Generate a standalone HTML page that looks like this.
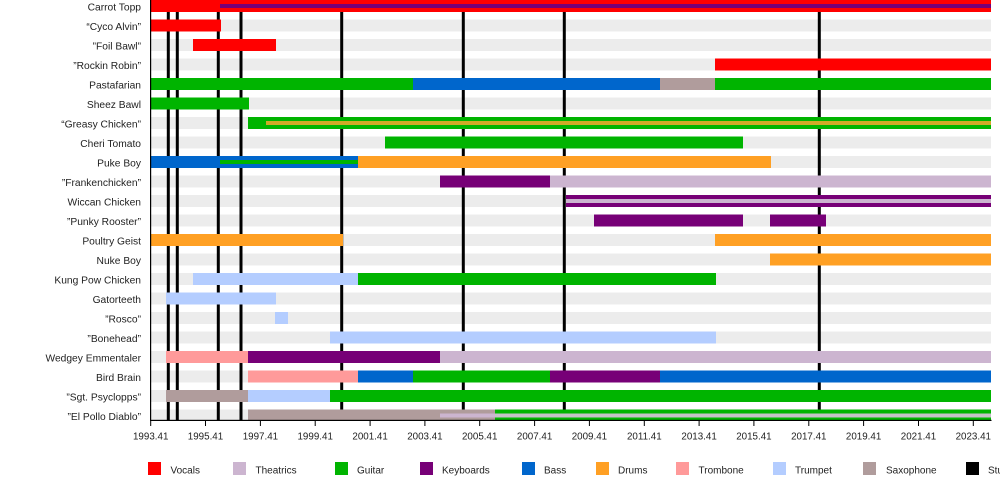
<!DOCTYPE html>
<html>
<head>
<meta charset="utf-8">
<style>
html,body{margin:0;padding:0;background:#fff;overflow:hidden;}
svg{display:block;font-family:"Liberation Sans",Arial,sans-serif;}
</style>
</head>
<body>
<svg width="1000" height="480" viewBox="0 0 1000 480" xmlns="http://www.w3.org/2000/svg">
<!-- stripes -->
<g fill="#ececec">
<rect x="151" y="0" width="840" height="12"/>
<rect x="151" y="19.5" width="840" height="12"/>
<rect x="151" y="39" width="840" height="12"/>
<rect x="151" y="58.5" width="840" height="12"/>
<rect x="151" y="78" width="840" height="12"/>
<rect x="151" y="97.5" width="840" height="12"/>
<rect x="151" y="117" width="840" height="12"/>
<rect x="151" y="136.5" width="840" height="12"/>
<rect x="151" y="156" width="840" height="12"/>
<rect x="151" y="175.5" width="840" height="12"/>
<rect x="151" y="195" width="840" height="12"/>
<rect x="151" y="214.5" width="840" height="12"/>
<rect x="151" y="234" width="840" height="12"/>
<rect x="151" y="253.5" width="840" height="12"/>
<rect x="151" y="273" width="840" height="12"/>
<rect x="151" y="292.5" width="840" height="12"/>
<rect x="151" y="312" width="840" height="12"/>
<rect x="151" y="331.5" width="840" height="12"/>
<rect x="151" y="351" width="840" height="12"/>
<rect x="151" y="370.5" width="840" height="12"/>
<rect x="151" y="390" width="840" height="12"/>
<rect x="151" y="409.5" width="840" height="11"/>
</g>
<!-- studio album lines -->
<g fill="#000">
<rect x="166.8" y="0" width="3" height="420"/>
<rect x="175.8" y="0" width="3" height="420"/>
<rect x="216.8" y="0" width="3" height="420"/>
<rect x="239.5" y="0" width="3" height="420"/>
<rect x="340.2" y="0" width="3" height="420"/>
<rect x="461.8" y="0" width="3" height="420"/>
<rect x="562.8" y="0" width="3" height="420"/>
<rect x="817.8" y="0" width="3" height="420"/>
</g>
<!-- bars -->
<!-- 0 Carrot Topp -->
<rect x="151" y="0" width="840" height="12" fill="#ff0000"/>
<rect x="220" y="4" width="771" height="4" fill="#770077"/>
<!-- 1 Cyco Alvin -->
<rect x="151" y="19.5" width="70" height="12" fill="#ff0000"/>
<!-- 2 Foil Bawl -->
<rect x="193" y="39" width="83" height="12" fill="#ff0000"/>
<!-- 3 Rockin Robin -->
<rect x="715" y="58.5" width="276" height="12" fill="#ff0000"/>
<!-- 4 Pastafarian -->
<rect x="151" y="78" width="262" height="12" fill="#00b400"/>
<rect x="413" y="78" width="247" height="12" fill="#0066cc"/>
<rect x="660" y="78" width="55" height="12" fill="#b09c9c"/>
<rect x="715" y="78" width="276" height="12" fill="#00b400"/>
<!-- 5 Sheez Bawl -->
<rect x="151" y="97.5" width="98" height="12" fill="#00b400"/>
<!-- 6 Greasy Chicken -->
<rect x="248" y="117" width="743" height="12" fill="#00b400"/>
<rect x="266" y="121" width="725" height="4" fill="#d0aa28"/>
<!-- 7 Cheri Tomato -->
<rect x="385" y="136.5" width="358" height="12" fill="#00b400"/>
<!-- 8 Puke Boy -->
<rect x="151" y="156" width="207" height="12" fill="#0066cc"/>
<rect x="220" y="160" width="138" height="4" fill="#00b400"/>
<rect x="358" y="156" width="413" height="12" fill="#ffa024"/>
<!-- 9 Frankenchicken -->
<rect x="440" y="175.5" width="110" height="12" fill="#770077"/>
<rect x="550" y="175.5" width="441" height="12" fill="#ccb5d0"/>
<!-- 10 Wiccan Chicken -->
<rect x="566" y="195" width="425" height="12" fill="#770077"/>
<rect x="566" y="199" width="425" height="4" fill="#ccb5d0"/>
<!-- 11 Punky Rooster -->
<rect x="594" y="214.5" width="149" height="12" fill="#770077"/>
<rect x="770" y="214.5" width="56" height="12" fill="#770077"/>
<!-- 12 Poultry Geist -->
<rect x="151" y="234" width="192" height="12" fill="#ffa024"/>
<rect x="715" y="234" width="276" height="12" fill="#ffa024"/>
<!-- 13 Nuke Boy -->
<rect x="770" y="253.5" width="221" height="12" fill="#ffa024"/>
<!-- 14 Kung Pow Chicken -->
<rect x="193" y="273" width="165" height="12" fill="#b4cdff"/>
<rect x="358" y="273" width="358" height="12" fill="#00b400"/>
<!-- 15 Gatorteeth -->
<rect x="166" y="292.5" width="110" height="12" fill="#b4cdff"/>
<!-- 16 Rosco -->
<rect x="275" y="312" width="13" height="12" fill="#b4cdff"/>
<!-- 17 Bonehead -->
<rect x="330" y="331.5" width="386" height="12" fill="#b4cdff"/>
<!-- 18 Wedgey Emmentaler -->
<rect x="166" y="351" width="82" height="12" fill="#ff9a9a"/>
<rect x="248" y="351" width="192" height="12" fill="#770077"/>
<rect x="440" y="351" width="551" height="12" fill="#ccb5d0"/>
<!-- 19 Bird Brain -->
<rect x="248" y="370.5" width="110" height="12" fill="#ff9a9a"/>
<rect x="358" y="370.5" width="55" height="12" fill="#0066cc"/>
<rect x="413" y="370.5" width="137" height="12" fill="#00b400"/>
<rect x="550" y="370.5" width="110" height="12" fill="#770077"/>
<rect x="660" y="370.5" width="331" height="12" fill="#0066cc"/>
<!-- 20 Sgt. Psyclopps -->
<rect x="166" y="390" width="82" height="12" fill="#b09c9c"/>
<rect x="248" y="390" width="82" height="12" fill="#b4cdff"/>
<rect x="330" y="390" width="661" height="12" fill="#00b400"/>
<!-- 21 El Pollo Diablo -->
<rect x="248" y="409.5" width="247" height="11" fill="#b09c9c"/>
<rect x="440" y="413.5" width="55" height="4" fill="#ccb5d0"/>
<rect x="495" y="409.5" width="496" height="11" fill="#00b400"/>
<rect x="495" y="413.5" width="496" height="4" fill="#c4c2c6"/>
<!-- axes -->
<rect x="150" y="0" width="1.2" height="421" fill="#000"/>
<rect x="150" y="419.8" width="841.5" height="1.2" fill="#000"/>
<g stroke="#000" stroke-width="1">
<line x1="150.7" y1="420" x2="150.7" y2="426"/>
<line x1="205.5" y1="420" x2="205.5" y2="426"/>
<line x1="260.4" y1="420" x2="260.4" y2="426"/>
<line x1="315.2" y1="420" x2="315.2" y2="426"/>
<line x1="370.1" y1="420" x2="370.1" y2="426"/>
<line x1="424.9" y1="420" x2="424.9" y2="426"/>
<line x1="479.7" y1="420" x2="479.7" y2="426"/>
<line x1="534.6" y1="420" x2="534.6" y2="426"/>
<line x1="589.4" y1="420" x2="589.4" y2="426"/>
<line x1="644.3" y1="420" x2="644.3" y2="426"/>
<line x1="699.1" y1="420" x2="699.1" y2="426"/>
<line x1="753.9" y1="420" x2="753.9" y2="426"/>
<line x1="808.8" y1="420" x2="808.8" y2="426"/>
<line x1="863.6" y1="420" x2="863.6" y2="426"/>
<line x1="918.5" y1="420" x2="918.5" y2="426"/>
<line x1="973.3" y1="420" x2="973.3" y2="426"/>
</g>
<g font-size="9.8" fill="#222" text-anchor="middle">
<text x="150.7" y="439.5">1993.41</text>
<text x="205.5" y="439.5">1995.41</text>
<text x="260.4" y="439.5">1997.41</text>
<text x="315.2" y="439.5">1999.41</text>
<text x="370.1" y="439.5">2001.41</text>
<text x="424.9" y="439.5">2003.41</text>
<text x="479.7" y="439.5">2005.41</text>
<text x="534.6" y="439.5">2007.41</text>
<text x="589.4" y="439.5">2009.41</text>
<text x="644.3" y="439.5">2011.41</text>
<text x="699.1" y="439.5">2013.41</text>
<text x="753.9" y="439.5">2015.41</text>
<text x="808.8" y="439.5">2017.41</text>
<text x="863.6" y="439.5">2019.41</text>
<text x="918.5" y="439.5">2021.41</text>
<text x="973.3" y="439.5">2023.41</text>
</g>
<!-- row labels -->
<g font-size="10.25" fill="#222" text-anchor="end">
<text x="141" y="10.5">Carrot Topp</text>
<text x="141" y="30">“Cyco Alvin”</text>
<text x="141" y="49.5">”Foil Bawl”</text>
<text x="141" y="69">”Rockin Robin”</text>
<text x="141" y="88.5">Pastafarian</text>
<text x="141" y="108">Sheez Bawl</text>
<text x="141" y="127.5">“Greasy Chicken”</text>
<text x="141" y="147">Cheri Tomato</text>
<text x="141" y="166.5">Puke Boy</text>
<text x="141" y="186">”Frankenchicken”</text>
<text x="141" y="205.5">Wiccan Chicken</text>
<text x="141" y="225">”Punky Rooster”</text>
<text x="141" y="244.5">Poultry Geist</text>
<text x="141" y="264">Nuke Boy</text>
<text x="141" y="283.5">Kung Pow Chicken</text>
<text x="141" y="303">Gatorteeth</text>
<text x="141" y="322.5">”Rosco”</text>
<text x="141" y="342">”Bonehead”</text>
<text x="141" y="361.5">Wedgey Emmentaler</text>
<text x="141" y="381">Bird Brain</text>
<text x="141" y="400.5">”Sgt. Psyclopps”</text>
<text x="141" y="420">”El Pollo Diablo”</text>
</g>
<!-- legend -->
<g>
<rect x="148" y="462" width="13" height="13" fill="#ff0000"/>
<rect x="233" y="462" width="13" height="13" fill="#ccb5d0"/>
<rect x="335" y="462" width="13" height="13" fill="#00b400"/>
<rect x="420" y="462" width="13" height="13" fill="#770077"/>
<rect x="522" y="462" width="13" height="13" fill="#0066cc"/>
<rect x="596" y="462" width="13" height="13" fill="#ffa024"/>
<rect x="676" y="462" width="13" height="13" fill="#ff9a9a"/>
<rect x="773" y="462" width="13" height="13" fill="#b4cdff"/>
<rect x="863" y="462" width="13" height="13" fill="#b09c9c"/>
<rect x="966" y="462" width="13" height="13" fill="#000"/>
</g>
<g font-size="10" fill="#222">
<text x="170.5" y="473.5">Vocals</text>
<text x="255.5" y="473.5">Theatrics</text>
<text x="357" y="473.5">Guitar</text>
<text x="442" y="473.5">Keyboards</text>
<text x="544" y="473.5">Bass</text>
<text x="618" y="473.5">Drums</text>
<text x="698.5" y="473.5">Trombone</text>
<text x="795" y="473.5">Trumpet</text>
<text x="886" y="473.5">Saxophone</text>
<text x="988" y="473.5">Studio albums</text>
</g>
</svg>
</body>
</html>
